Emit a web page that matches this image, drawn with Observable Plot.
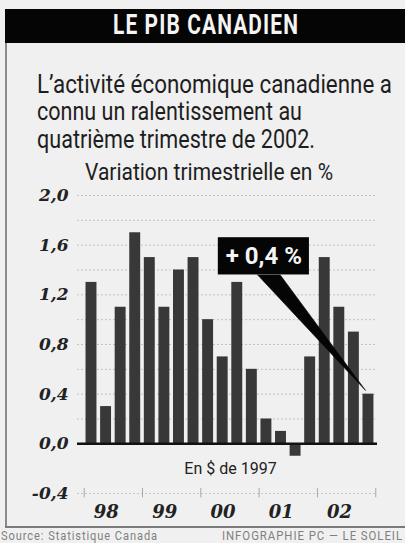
<!DOCTYPE html>
<html>
<head>
<meta charset="utf-8">
<script src="https://cdn.jsdelivr.net/npm/d3@7"></script>
<script src="https://cdn.jsdelivr.net/npm/@observablehq/plot@0.6"></script>
<style>
  html, body { margin: 0; padding: 0; }
  body { width: 405px; height: 543px; overflow: hidden; position: relative; background: #f0f0f0; font-family: Roboto, "Liberation Sans", sans-serif; }
  .t { position: absolute; white-space: nowrap; transform-origin: 0 0; line-height: 1; display: inline-block; }
  #titlebar { position: absolute; left: 5px; top: 9px; width: 400px; height: 34px; background: #050505; }
  #lborder { position: absolute; left: 5px; top: 43px; width: 2px; height: 484px; background: #8a8a8a; }
  #bborder { position: absolute; left: 5px; top: 526px; width: 400px; height: 2px; background: #7a7a7a; }
  #chart { position: absolute; left: 0; top: 185px; }
</style>
</head>
<body>
<div id="titlebar"></div>
<div id="lborder"></div>
<div id="bborder"></div>
<div id="chart"></div>
<script>
// ---- data ----
const quarterLabels = ["1998 T1","1998 T2","1998 T3","1998 T4","1999 T1","1999 T2","1999 T3","1999 T4",
                       "2000 T1","2000 T2","2000 T3","2000 T4","2001 T1","2001 T2","2001 T3","2001 T4",
                       "2002 T1","2002 T2","2002 T3","2002 T4"];
const growth = [1.3, 0.3, 1.1, 1.7, 1.5, 1.1, 1.4, 1.5, 1.0, 0.7, 1.3, 0.6, 0.2, 0.1, -0.1, 0.7, 1.5, 1.1, 0.9, 0.4];
const yearLabels = ["98", "99", "00", "01", "02"];
const yTickValues = [-0.4, 0, 0.4, 0.8, 1.2, 1.6, 2.0];
const gridValues = [0.2, 0.4, 0.6, 0.8, 1.0, 1.2, 1.4, 1.6, 1.8, 2.0];
const calloutLabel = "+ 0,4 %";

const titleText = "LE PIB CANADIEN";
const subtitleLines = ["L’activité économique canadienne a", "connu un ralentissement au", "quatrième trimestre de 2002."];
const unitText = "Variation trimestrielle en %";
const noteText = "En $ de 1997";
const sourceText = "Source: Statistique Canada";
const creditText = "INFOGRAPHIE PC — LE SOLEIL";

// ---- header / footer text (HTML) ----
function addText(str, {left, baseline, size, width, weight = 400, color = "#1a1a1a", spacing = 0}) {
  const el = document.createElement("span");
  el.className = "t";
  el.textContent = str;
  el.style.fontSize = size + "px";
  el.style.fontWeight = weight;
  el.style.color = color;
  el.style.letterSpacing = spacing + "px";
  el.style.left = left + "px";
  el.style.top = (baseline - 0.842 * size) + "px";
  document.body.appendChild(el);
  const nat = el.getBoundingClientRect().width;
  el.style.transform = `scaleX(${width / nat})`;
  return el;
}
addText(titleText, {left: 113, baseline: 35, size: 28, width: 186, weight: 700, color: "#f4f4f4", spacing: 1.5});
subtitleLines.forEach((s, i) => {
  const widths = [355, 265, 278];
  addText(s, {left: 37, baseline: 93 + i * 27.3, size: 26, width: widths[i], color: "#1e1e1e"});
});
addText(unitText, {left: 85, baseline: 180.5, size: 24, width: 248, color: "#1e1e1e"});
addText(sourceText, {left: 1, baseline: 540, size: 12, width: 157, color: "#808080", spacing: 1});
addText(creditText, {left: 222, baseline: 540, size: 12, width: 181, color: "#808080", spacing: 1});

// ---- chart ----
const data = quarterLabels.map((q, i) => ({q, i, v: growth[i]}));
const last = data[data.length - 1];
const yearCenters = yearLabels.map((y, k) => ({label: y, x: 4 * k + 1.5}));
const yearBounds = [...yearLabels.map((y, k) => 4 * k - 0.5), 4 * yearLabels.length - 0.5];
const fmt = d => d.toFixed(1).replace(".", ",");

// callout box (in quarter-index / % units) and its pointer to the last quarter
const box = {label: calloutLabel, x1: 8.7, x2: 14.95, y1: 1.36, y2: 1.66};
const wedge = [
  {x: 11.4, y: box.y1},
  {x: 12.95, y: box.y1},
  {x: last.i - 0.2, y: last.v + 0.03},
  {x: 11.4, y: box.y1}
];

const serif = {fontFamily: "DejaVu Serif", fontStyle: "italic", fontWeight: "bold", fill: "#222"};

const chart = Plot.plot({
  width: 405,
  height: 343,
  marginTop: 10,
  marginBottom: 35,
  marginLeft: 77,
  marginRight: 28,
  x: {domain: [-0.96, 19.62], axis: null},
  y: {domain: [-0.4, 2.0]},
  style: {background: "transparent", overflow: "visible"},
  marks: [
    Plot.ruleY(gridValues, {stroke: "#c2c2c2", strokeWidth: 1, strokeDasharray: "2,2"}),
    Plot.ruleY([-0.4], {stroke: "#c8c8c8", strokeWidth: 1, strokeDasharray: "2,2"}),
    Plot.ruleX(yearBounds, {y1: -0.36, y2: -0.435, stroke: "#a8a8a8", strokeWidth: 1}),
    Plot.rectY(data, {x1: d => d.i - 0.375, x2: d => d.i + 0.375, y1: 0, y2: "v", fill: "#383838"}),
    Plot.ruleY([0], {stroke: "#111", strokeWidth: 2.5}),
    Plot.axisY({ticks: yTickValues, tickSize: 0, tickPadding: 9, tickFormat: fmt, fontSize: 17, label: null, ...serif}),
    Plot.text(yearCenters, {x: "x", y: () => -0.4, text: "label", dy: 19, dx: -7, fontSize: 18, ...serif}),
    Plot.text([noteText], {frameAnchor: "bottom", dy: -20, dx: 3, fontFamily: "Roboto", fontSize: 16, fill: "#222"}),
    Plot.line(wedge, {x: "x", y: "y", fill: "#050505", stroke: "#050505", strokeWidth: 0.6}),
    Plot.rect([box], {x1: "x1", x2: "x2", y1: "y1", y2: "y2", fill: "#050505"}),
    Plot.text([box], {x: d => (d.x1 + d.x2) / 2, y: d => (d.y1 + d.y2) / 2, text: "label", fill: "#f4f4f4",
                      fontFamily: "Roboto", fontWeight: "bold", fontSize: 24})
  ]
});
document.getElementById("chart").appendChild(chart);
</script>
</body>
</html>
